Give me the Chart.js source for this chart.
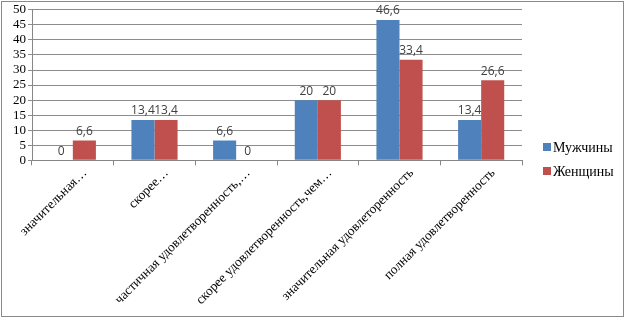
<!DOCTYPE html>
<html>
<head>
<meta charset="utf-8">
<script src="https://cdn.jsdelivr.net/npm/chart.js@4"></script>
<style>
  body { margin: 0; background: #fff; }
  #wrap { width: 625px; height: 318px; }
</style>
</head>
<body>
<div id="wrap"><canvas id="grafico" width="625" height="318"></canvas></div>
<script>
const categorias = [
    'значительная…',
    'скорее…',
    'частичная удовлетворенность,…',
    'скорее удовлетворенность,чем…',
    'значительная удовлеторенность',
    'полная удовлетворенность'
];
const mujchiny = [0, 13.4, 6.6, 20, 46.6, 13.4];
const zhenshchiny = [6.6, 13.4, 0, 20, 33.4, 26.6];
const ticksY = [0, 5, 10, 15, 20, 25, 30, 35, 40, 45, 50];

// valores acima das barras
const rotulos = {
    id: 'rotulos',
    afterDatasetsDraw(chart) {
        const ctx = chart.ctx;
        ctx.save();
        ctx.font = '12px "Open Sans", sans-serif';
        ctx.fillStyle = '#404040';
        ctx.textAlign = 'center';
        ctx.textBaseline = 'bottom';
        chart.data.datasets.forEach((ds, i) => {
            chart.getDatasetMeta(i).data.forEach((bar, j) => {
                const txt = String(ds.data[j]).replace('.', ',');
                ctx.fillText(txt, bar.x, bar.y - 3);
            });
        });
        ctx.restore();
    }
};

// legenda à direita, desenhada à mão
const legenda = {
    id: 'legenda',
    afterDraw(chart) {
        const ctx = chart.ctx;
        const area = chart.chartArea;
        ctx.save();
        ctx.font = '14px "Liberation Serif", serif';
        ctx.textBaseline = 'middle';
        ctx.fillStyle = '#000';
        chart.data.datasets.forEach((ds, i) => {
            const x = area.right + 21;
            const y = 147 + i * 24;
            ctx.fillStyle = ds.backgroundColor;
            ctx.fillRect(x, y - 4, 8, 8);
            ctx.fillStyle = '#000';
            ctx.fillText(ds.label, x + 10, y + 1);
        });
        ctx.restore();
    }
};

const moldura = {
    id: 'moldura',
    afterDraw(chart) {
        const ctx = chart.ctx;
        ctx.save();
        ctx.strokeStyle = '#8a8a8a';
        ctx.lineWidth = 1;
        ctx.strokeRect(1.5, 1.5, chart.width - 3, chart.height - 3);
        ctx.restore();
    }
};

const ctx = document.getElementById('grafico').getContext('2d');
new Chart(ctx, {
    type: 'bar',
    data: {
        labels: categorias,
        datasets: [
            { label: 'Мужчины', data: mujchiny, backgroundColor: '#4F81BD' },
            { label: 'Женщины', data: zhenshchiny, backgroundColor: '#C0504D' }
        ]
    },
    options: {
        responsive: false,
        animation: false,
        devicePixelRatio: 1,
        categoryPercentage: 0.565,
        barPercentage: 1,
        layout: { padding: { top: 9, left: 11, right: 103, bottom: 10 } },
        plugins: {
            tooltip: { enabled: false },
            legend: { display: false }
        },
        scales: {
            x: {
                grid: { offset: true, drawOnChartArea: false, color: '#868686', tickLength: 5 },
                border: { color: '#868686' },
                ticks: {
                    minRotation: 45,
                    maxRotation: 45,
                    autoSkip: false,
                    padding: 0,
                    labelOffset: 12,
                    color: '#000',
                    font: { family: '"Liberation Serif", serif', size: 13.3 }
                }
            },
            y: {
                min: 0,
                max: 50,
                afterBuildTicks(axis) { axis.ticks = ticksY.map(v => ({ value: v })); },
                grid: { color: '#8c8c8c', tickLength: 4 },
                border: { color: '#868686' },
                ticks: {
                    autoSkip: false,
                    stepSize: 5,
                    padding: 2,
                    color: '#000',
                    font: { family: '"Liberation Serif", serif', size: 13 }
                }
            }
        }
    },
    plugins: [rotulos, legenda, moldura]
});
</script>
</body>
</html>
